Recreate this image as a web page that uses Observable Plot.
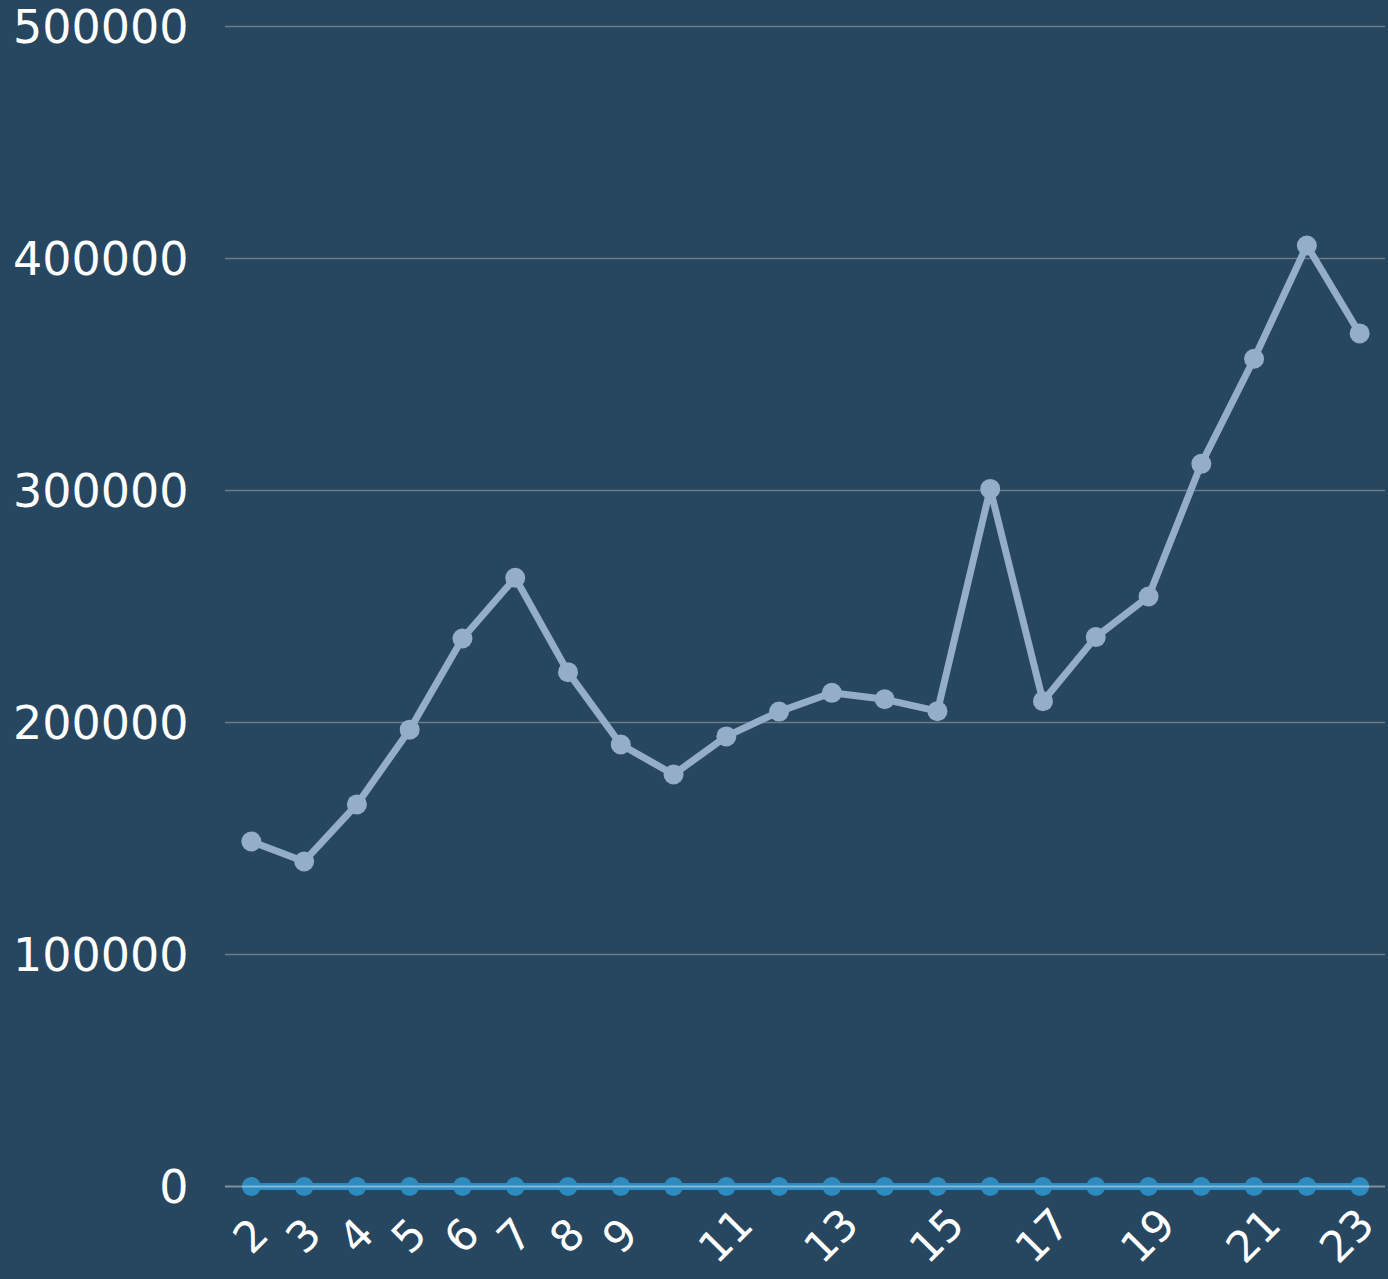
<!DOCTYPE html>
<html>
<head>
<meta charset="utf-8">
<script src="https://cdn.jsdelivr.net/npm/d3@7"></script>
<script src="https://cdn.jsdelivr.net/npm/@observablehq/plot@0.6"></script>
<style>
  html, body { margin: 0; padding: 0; background: #27465f; }
  #chart { width: 1388px; height: 1279px; overflow: hidden; }
</style>
</head>
<body>
<div id="chart"></div>
<script>
const days = [2, 3, 4, 5, 6, 7, 8, 9, 10, 11, 12, 13, 14, 15, 16, 17, 18, 19, 20, 21, 22, 23];
const seriesA = [148700, 140100, 164700, 196900, 236200, 262400, 221700, 190500, 177600, 194000, 204700, 212800,
                 210000, 204900, 300700, 209200, 236800, 254300, 311500, 356800, 405600, 367700];
const seriesB = [0, 0, 0, 0, 0, 0, 0, 0, 0, 0, 0, 0, 0, 0, 0, 0, 0, 0, 0, 0, 0, 0];
const xTickLabels = [2, 3, 4, 5, 6, 7, 8, 9, 11, 13, 15, 17, 19, 21, 23];
const yTicks = [0, 100000, 200000, 300000, 400000, 500000];

const dataA = days.map((d, i) => ({day: d, value: seriesA[i]}));
const dataB = days.map((d, i) => ({day: d, value: seriesB[i]}));
const lastLabel = xTickLabels[xTickLabels.length - 1];
const innerLabels = xTickLabels.slice(0, -1);

const axisXOpts = {tickSize: 0, tickRotate: -45, textAnchor: "middle", lineAnchor: "middle", tickPadding: 50, label: null, fill: "#ffffff", fontSize: 43};

const chart = Plot.plot({
  width: 1388,
  height: 1279,
  marginLeft: 225,
  marginRight: 3,
  marginTop: 26,
  marginBottom: 93,
  style: {
    background: "#27465f",
    color: "#ffffff",
    fontFamily: "'DejaVu Sans', sans-serif",
    fontSize: "44px"
  },
  x: {type: "point", domain: days, padding: 0.49, round: false},
  y: {domain: [0, 500000]},
  marks: [
    Plot.gridY(yTicks.filter(d => d > 0), {stroke: "#ffffff", strokeOpacity: 0.3, strokeWidth: 1.5}),
    Plot.axisY(yTicks, {tickSize: 0, tickPadding: 37, dy: 2, tickFormat: d => String(d), label: null, fill: "#ffffff", fontSize: 46}),
    Plot.axisX(innerLabels, axisXOpts),
    Plot.axisX([lastLabel], {...axisXOpts, dx: -12}),
    Plot.line(dataB, {x: "day", y: "value", stroke: "#2e8bc0", strokeWidth: 7}),
    Plot.dot(dataB, {x: "day", y: "value", fill: "#2e8bc0", r: 9.5}),
    Plot.line(dataA, {x: "day", y: "value", stroke: "#94adc8", strokeWidth: 7}),
    Plot.dot(dataA, {x: "day", y: "value", fill: "#94adc8", r: 10}),
    Plot.ruleY([0], {stroke: "#ffffff", strokeOpacity: 0.4, strokeWidth: 2})
  ]
});
document.getElementById("chart").appendChild(chart);
</script>
</body>
</html>
